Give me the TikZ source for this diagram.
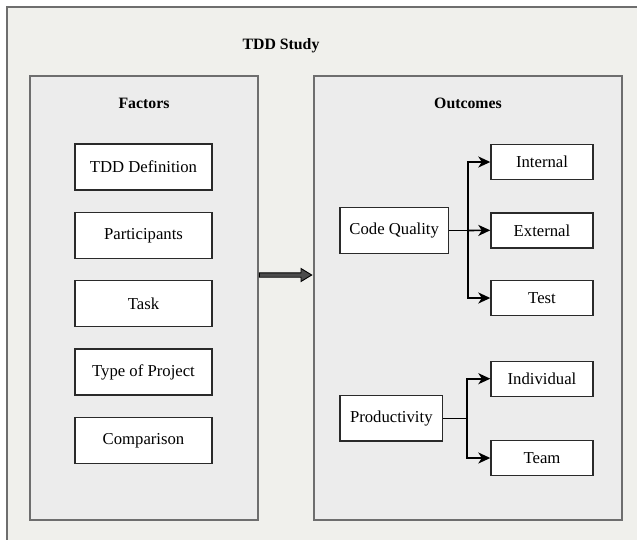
\documentclass[tikz,border=0pt]{standalone}
\usepackage{fontspec}
\setmainfont{Liberation Serif}
\usetikzlibrary{arrows.meta}
\definecolor{outerbg}{HTML}{F0F0EC}
\definecolor{panelbg}{HTML}{ECECEC}
\definecolor{panelline}{HTML}{6E6E6E}
\definecolor{boxline}{HTML}{2A2A2A}
\tikzset{
  panel/.style={draw=panelline, line width=1.5pt, fill=panelbg},
  itembox/.style={draw=boxline, line width=1.4pt, fill=white, inner sep=0pt,
    font=\fontsize{16.7}{20}\selectfont},
  titletext/.style={font=\fontsize{15.8}{19}\selectfont\bfseries, inner sep=0pt},
  conn/.style={draw=black, line width=1.6pt, -{Stealth[length=12pt,width=11pt,inset=3.5pt]}},
  plainconn/.style={draw=black, line width=1.6pt},
}
\begin{document}
\begin{tikzpicture}[x=1pt,y=-1pt]
\useasboundingbox (0,0) rectangle (637,539);
\fill[white] (0,0) rectangle (637,539);
\begin{scope}
\clip (0,0) rectangle (637,539);
\draw[draw=panelline, line width=1.5pt, fill=outerbg] (7,7) rectangle (650,550);
\end{scope}
\node[titletext] (title) at (281,46) {TDD Study};
% panels
\draw[panel] (30,76) rectangle (258,520);
\draw[panel] (314,76) rectangle (622,520);
\node[titletext] (factors) at (144,103) {Factors};
\node[titletext] (outcomes) at (468,103) {Outcomes};
% factors
\node[itembox, minimum width=137pt, minimum height=46pt] (f1) at (143.5,167) {TDD Definition};
\node[itembox, minimum width=137pt, minimum height=46pt] (f2) at (143.5,235.5) {Participants};
\node[itembox, minimum width=137pt, minimum height=46pt] (f3) at (143.5,303.5) {Task};
\node[itembox, minimum width=137pt, minimum height=46pt] (f4) at (143.5,372) {Type of Project};
\node[itembox, minimum width=137pt, minimum height=46pt] (f5) at (143.5,440.5) {Comparison};
% outcomes
\node[itembox, minimum width=108.5pt, minimum height=45.5pt] (cq) at (394.2,230.5) {Code Quality};
\node[itembox, minimum width=102.5pt, minimum height=45.5pt] (prod) at (391.3,418.3) {Productivity};
\node[itembox, minimum width=102pt, minimum height=35pt] (int) at (542,162) {Internal};
\node[itembox, minimum width=102pt, minimum height=35pt] (ext) at (542,230.3) {External};
\node[itembox, minimum width=102pt, minimum height=35pt] (tst) at (542,298) {Test};
\node[itembox, minimum width=102pt, minimum height=35pt] (ind) at (542,378.7) {Individual};
\node[itembox, minimum width=102pt, minimum height=35pt] (team) at (542,458) {Team};
% connectors
\coordinate (cqb) at (467.7,230.5);
\coordinate (pb) at (466.7,418.3);
\draw[plainconn] (cq.east) -- (cqb);
\draw[conn] (cqb) |- (int.west);
\draw[conn] (cqb) -- (ext.west);
\draw[conn] (cqb) |- (tst.west);
\draw[plainconn] (prod.east) -- (pb);
\draw[conn] (pb) |- (ind.west);
\draw[conn] (pb) |- (team.west);
% block arrow
\draw[draw=black, line width=0.9pt, fill=black!70, line join=miter]
  (259.3,272.8) -- (301,272.8) -- (301,268.5) -- (311.7,275) -- (301,281.5) -- (301,277.2) -- (259.3,277.2) -- cycle;
\end{tikzpicture}
\end{document}
